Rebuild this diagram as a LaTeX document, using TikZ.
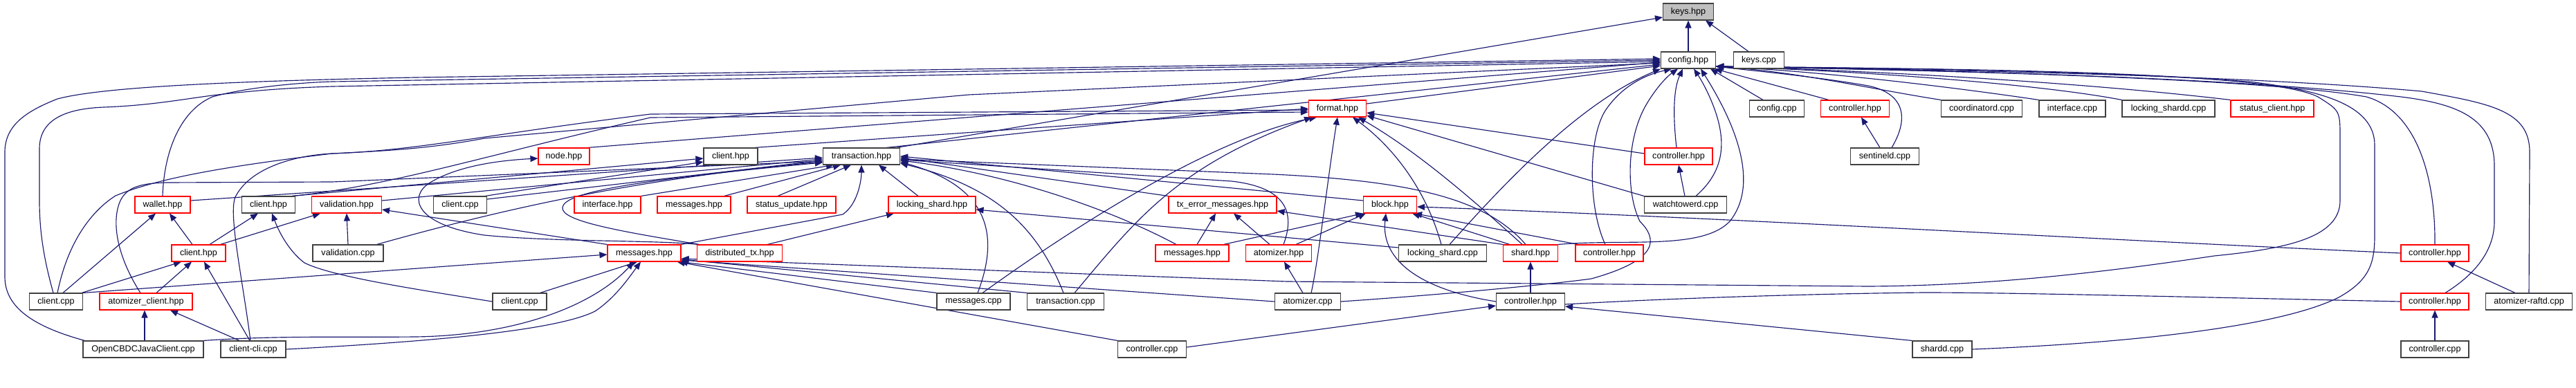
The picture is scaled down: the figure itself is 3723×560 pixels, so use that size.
\documentclass[tikz,border=0pt]{standalone}
\usepackage{fontspec}
\setmainfont{Liberation Sans}
\usetikzlibrary{arrows.meta}
\definecolor{edgec}{HTML}{191970}
\definecolor{redb}{HTML}{FF0000}
\definecolor{blkb}{HTML}{404040}
\definecolor{keyfill}{HTML}{BFBFBF}
\newcommand\nodefont{\fontsize{12.6}{14}\selectfont}
\pgfdeclarelayer{bg}
\pgfsetlayers{bg,main}
\begin{document}
\begin{tikzpicture}[x=1pt,y=-1pt,
  base/.style={draw, rectangle, minimum height=24, inner sep=0pt, fill=white, line width=1.1, text=black, font=\nodefont},
  rn/.style={base, draw=redb},
  bn/.style={base, draw=blkb},
  kn/.style={base, draw=blkb, fill=keyfill},
  e/.style={draw=edgec, line width=1.15, -{Triangle[length=11pt,width=9pt]}},
  en/.style={draw=edgec, line width=1.15}]
\useasboundingbox (0,0) rectangle (3723,560);
% row 0,1
\node[kn,minimum width=73] (keys) at (2440,17) {keys.hpp};
\node[bn,minimum width=79] (config) at (2440,87) {config.hpp};
\node[bn,minimum width=73] (keyscpp) at (2542,87) {keys.cpp};
% row 2
\node[rn,minimum width=83] (format) at (1933,157) {format.hpp};
\node[bn,minimum width=79] (configcpp) at (2568,157) {config.cpp};
\node[rn,minimum width=99] (ctrlA) at (2681,157) {controller.hpp};
\node[bn,minimum width=117] (coord) at (2864,157) {coordinatord.cpp};
\node[bn,minimum width=96] (ifacecpp) at (2995,157) {interface.cpp};
\node[bn,minimum width=134] (lsdcpp) at (3134,157) {locking\_shardd.cpp};
\node[rn,minimum width=120] (statcl) at (3284,157) {status\_client.hpp};
% row 3
\node[rn,minimum width=74] (node) at (815,226) {node.hpp};
\node[bn,minimum width=78] (clhA) at (1056,226) {client.hpp};
\node[bn,minimum width=111] (tx) at (1245,226) {transaction.hpp};
\node[rn,minimum width=98] (ctrlB) at (2426,226) {controller.hpp};
\node[bn,minimum width=99] (sentd) at (2724,226) {sentineld.cpp};
% row 4
\node[rn,minimum width=80] (wallet) at (235,296) {wallet.hpp};
\node[bn,minimum width=77] (clhB) at (388,296) {client.hpp};
\node[rn,minimum width=101] (valh) at (501,296) {validation.hpp};
\node[bn,minimum width=77] (clcA) at (665,296) {client.cpp};
\node[rn,minimum width=96] (ifaceh) at (878,296) {interface.hpp};
\node[rn,minimum width=106] (msgA) at (1003,296) {messages.hpp};
\node[rn,minimum width=128] (stup) at (1144,296) {status\_update.hpp};
\node[rn,minimum width=126] (lsh) at (1347,296) {locking\_shard.hpp};
\node[rn,minimum width=156] (txerr) at (1767,296) {tx\_error\_messages.hpp};
\node[rn,minimum width=77] (block) at (2009,296) {block.hpp};
\node[bn,minimum width=119] (watch) at (2436,296) {watchtowerd.cpp};
% row 5
\node[rn,minimum width=78] (clhC) at (287,366) {client.hpp};
\node[bn,minimum width=102] (valcpp) at (503,366) {validation.cpp};
\node[rn,minimum width=106] (msgL) at (931,366) {messages.hpp};
\node[rn,minimum width=123] (dtx) at (1069,366) {distributed\_tx.hpp};
\node[rn,minimum width=106] (msgR) at (1723,366) {messages.hpp};
\node[rn,minimum width=95] (atomh) at (1848,366) {atomizer.hpp};
\node[bn,minimum width=127] (lscpp) at (2085,366) {locking\_shard.cpp};
\node[rn,minimum width=79] (shard) at (2212,366) {shard.hpp};
\node[rn,minimum width=98] (ctrlC) at (2326,366) {controller.hpp};
\node[rn,minimum width=98] (ctrlD) at (3519,366) {controller.hpp};
% row 6
\node[bn,minimum width=77] (clcB) at (81,436) {client.cpp};
\node[rn,minimum width=134] (atcl) at (211,436) {atomizer\_client.hpp};
\node[bn,minimum width=78] (clcC) at (751,436) {client.cpp};
\node[bn,minimum width=106] (msgcpp) at (1407,436) {messages.cpp};
\node[bn,minimum width=111] (txcpp) at (1540,436) {transaction.cpp};
\node[bn,minimum width=95] (atomcpp) at (1890,436) {atomizer.cpp};
\node[bn,minimum width=99] (ctrlE) at (2212,436) {controller.hpp};
\node[rn,minimum width=98] (ctrlF) at (3519,436) {controller.hpp};
\node[bn,minimum width=125] (raftd) at (3655,436) {atomizer-raftd.cpp};
% row 7
\node[bn,minimum width=174] (java) at (207,505) {OpenCBDCJavaClient.cpp};
\node[bn,minimum width=94] (cli) at (366,505) {client-cli.cpp};
\node[bn,minimum width=99] (ctlcA) at (1665,505) {controller.cpp};
\node[bn,minimum width=86] (shardd) at (2807,505) {shardd.cpp};
\node[bn,minimum width=98] (ctlcB) at (3519,505) {controller.cpp};

\begin{pgfonlayer}{bg}
% keys.hpp
\draw[e] (config.north) -- (keys.south);
\draw[e] ([xshift=-15]keyscpp.north) -- ([xshift=25]keys.south);
\draw[e] ([xshift=-5]tx.north east) -- ([yshift=-8]keys.west);
% config.hpp
\draw[e] ([yshift=7]format.east) -- ([yshift=-8]config.west);
\draw[e] ([xshift=-20]configcpp.north) -- ([xshift=32]config.south);
\draw[e] ([xshift=-38]ctrlA.north) -- ([xshift=-2]config.south east);
\draw[e] (coord.north west) .. controls (2700,128) and (2600,104) .. ([yshift=-9]config.east);
\draw[e] (ifacecpp.north west) .. controls (2850,130) and (2650,104) .. ([yshift=-9]config.east);
\draw[e] (lsdcpp.north west) .. controls (2950,122) and (2700,103) .. ([yshift=-9]config.east);
\draw[e] (statcl.north west) .. controls (3000,118) and (2700,102) .. ([yshift=-9]config.east);
\draw[e] ([xshift=10]sentd.north) .. controls (2760,170) and (2752,135) .. (2700,124) .. controls (2620,110) and (2530,102) .. ([yshift=-9]config.east);
\draw[e] ([xshift=-3]ctrlB.north) .. controls (2418,170) and (2418,130) .. ([xshift=-8]config.south);
\draw[e] ([xshift=15]watch.north) .. controls (2495,245) and (2495,200) .. (2475,150) .. controls (2465,125) and (2455,110) .. ([xshift=8]config.south);
\draw[e] (shard.north east) .. controls (2350,345) and (2460,362) .. (2500,320) .. controls (2540,270) and (2515,190) .. ([xshift=18]config.south);
\draw[e] ([xshift=-6]ctrlC.north) .. controls (2295,300) and (2295,200) .. (2320,160) .. controls (2340,130) and (2370,110) .. ([xshift=-24]config.south);
\draw[e] (atomcpp.east) .. controls (2100,425) and (2250,410) .. (2300,403) .. controls (2400,375) and (2395,345) .. (2370,320) .. controls (2350,280) and (2350,200) .. (2380,150) .. controls (2395,125) and (2410,110) .. ([xshift=-15]config.south);
\draw[e] ([xshift=10]lscpp.north) .. controls (2170,270) and (2280,150) .. (config.south west);
\draw[e] (raftd.north) -- (3656,220) .. controls (3656,160) and (3600,150) .. (3500,132) .. controls (3200,105) and (2700,100) .. ([yshift=-9]config.east);
\draw[e] ([xshift=15]ctrlF.north) .. controls (3580,395) and (3605,360) .. (3605,320) -- (3605,240) .. controls (3605,170) and (3550,150) .. (3470,140) .. controls (3200,108) and (2700,100) .. ([yshift=-9]config.east);
\draw[e] (ctrlD.north) .. controls (3520,250) and (3490,160) .. (3420,140) .. controls (3250,110) and (2700,100) .. ([yshift=-9]config.east);
\draw[e] (shardd.east) .. controls (3100,495) and (3300,470) .. (3380,430) .. controls (3425,405) and (3432,380) .. (3432,340) -- (3432,210) .. controls (3432,150) and (3350,130) .. (3250,118) .. controls (3000,100) and (2700,99) .. ([yshift=-9]config.east);
\draw[e] ([yshift=-9]config.east) .. controls (2900,100) and (3280,105) .. (3350,140) .. controls (3382,160) .. (3382,200) -- (3382,290) .. controls (3382,345) and (3300,360) .. (3200,370) .. controls (3000,400) and (2850,413) .. (2700,414) -- (1860,407) -- ([yshift=-8]msgL.east);
\draw[e] ([xshift=3]java.north west) .. controls (40,470) and (7,440) .. (7,400) -- (7,220) .. controls (7,180) and (40,160) .. (83,143) .. controls (150,125) and (350,117) .. (600,112) -- ([yshift=2]config.west);
\draw[e] ([xshift=-4]clcB.north) .. controls (65,380) and (57,340) .. (57,290) -- (57,215) .. controls (57,170) and (100,157) .. (150,155) .. controls (230,152) and (280,140) .. (333,135) .. controls (380,130) and (420,127) .. (480,125) -- ([yshift=-2]config.west);
\draw[e] (wallet.north) .. controls (237,220) and (260,160) .. (307,140) .. controls (350,128) and (420,120) .. (480,118) -- (config.west);
\draw[e] ([xshift=-4]cli.north) .. controls (350,400) and (330,310) .. (340,285) .. controls (360,245) and (420,225) .. (480,222) .. controls (560,218) and (620,215) .. (700,200) -- (1400,137) -- ([yshift=-4]config.west);
\draw[e] ([xshift=-20]tx.north east) -- ([yshift=-6]config.west);
\draw[e] ([xshift=-3]node.north east) -- ([yshift=-3]config.west);
% format.hpp
\draw[e] ([yshift=4]ctrlB.west) -- ([yshift=-6]format.east);
\draw[e] (watch.north west) -- ([yshift=-10]format.east);
\draw[e] ([xshift=-12]shard.north) .. controls (2130,290) and (2050,220) .. ([xshift=30]format.south);
\draw[e] ([xshift=-2]lscpp.north) .. controls (2060,270) and (2010,210) .. ([xshift=22]format.south);
\draw[e] ([xshift=5]atomcpp.north) .. controls (1905,380) and (1920,250) .. (format.south);
\draw[e] ([xshift=13]msgcpp.north) .. controls (1550,330) and (1750,200) .. ([xshift=-30]format.south);
\draw[e] ([xshift=13]txcpp.north) .. controls (1640,320) and (1700,240) .. ([xshift=-37]format.south);
\draw[e] ([xshift=2]clcB.north) .. controls (100,340) and (140,300) .. (167,283) .. controls (230,257) and (330,240) .. (480,222) .. controls (600,218) and (700,195) .. (940,165) -- ([yshift=-2]format.west);
\draw[e] ([xshift=-5]clhA.north east) -- (format.west);
\draw[e] ([xshift=-5]clhB.north east) .. controls (560,270) and (700,225) .. (940,170) -- ([yshift=-5]format.west);
% transaction.hpp
\draw[e] ([yshift=6]wallet.east) -- ([yshift=-2]tx.west);
\draw[e] ([yshift=6]valh.east) -- ([yshift=-4]tx.west);
\draw[e] ([yshift=8]clcA.east) -- ([yshift=-6]tx.west);
\draw[e] ([xshift=-10]valcpp.north east) .. controls (700,310) and (900,260) .. ([yshift=-8]tx.west);
\draw[e] (ifaceh.north east) -- ([xshift=-40]tx.south);
\draw[e] ([xshift=-10]msgA.north east) -- ([xshift=-30]tx.south);
\draw[e] ([xshift=-20]stup.north) -- ([xshift=-15]tx.south);
\draw[e] ([xshift=-20]lsh.north) -- ([xshift=25]tx.south);
\draw[e] (msgL.north east) -- (1218,310) .. controls (1240,295) and (1245,260) .. (tx.south);
\draw[e] ([xshift=4]dtx.north west) .. controls (900,335) and (810,320) .. (813,300) .. controls (815,280) and (900,262) .. ([yshift=-9]tx.west);
\draw[e] ([xshift=-8]atcl.north) .. controls (175,380) and (160,330) .. (172,295) .. controls (180,272) and (200,265) .. (240,264) -- (480,263) -- ([yshift=-7]tx.west);
\draw[e] (txerr.north west) -- ([yshift=-2]tx.east);
\draw[e] ([xshift=-23]msgR.north) .. controls (1600,300) and (1450,250) .. ([yshift=-6]tx.east);
\draw[e] ([xshift=7]atomh.north) .. controls (1875,300) and (1850,270) .. (1780,262) -- ([yshift=-5]tx.east);
\draw[e] ([yshift=6]block.west) -- ([yshift=0]tx.east);
\draw[e] ([xshift=-7]shard.north) .. controls (2150,290) and (2050,262) .. (1840,252) -- ([yshift=-4]tx.east);
\draw[e] ([xshift=6]msgcpp.north) .. controls (1445,340) and (1430,270) .. ([yshift=-8]tx.east);
\draw[e] ([xshift=-3]txcpp.north) .. controls (1500,330) and (1440,270) .. ([yshift=-10]tx.east);
% client.hpp (row 3)
\draw[e] ([xshift=-5]clhB.north east) -- ([yshift=-3]clhA.west);
\draw[e] ([xshift=-3]clcA.north east) -- ([yshift=-8]clhA.west);
% node.hpp, locking_shard.hpp
\draw[e] ([xshift=2]dtx.north west) .. controls (950,347) and (800,350) .. (700,340) .. controls (600,325) and (590,285) .. (620,265) .. controls (660,240) and (720,232) .. ([yshift=-3]node.west);
\draw[e] ([xshift=40]dtx.north) -- ([xshift=-55]lsh.south);
\draw[e] ([yshift=8]lscpp.west) -- ([yshift=-7]lsh.east);
% validation.hpp, wallet.hpp, client.hpp (rows 4, 5)
\draw[e] ([xshift=-8]clhC.north east) -- ([xshift=-38]valh.south);
\draw[e] (valcpp.north) -- (valh.south);
\draw[e] (msgL.north west) -- ([yshift=-7]valh.east);
\draw[e] ([xshift=-9]clhC.north) -- ([xshift=10]wallet.south);
\draw[e] ([xshift=10]clcB.north) -- ([xshift=-10]wallet.south);
\draw[e] ([xshift=16]clhC.north) -- ([xshift=-15]clhB.south);
\draw[e] (clcC.west) .. controls (600,418) and (480,400) .. (440,380) .. controls (420,365) and (405,340) .. ([xshift=5]clhB.south);
\draw[e] ([xshift=-2]clcB.north east) -- ([xshift=-25]clhC.south);
\draw[e] ([xshift=15]atcl.north) -- ([xshift=-10]clhC.south);
\draw[e] ([xshift=-5]cli.north) -- ([xshift=8]clhC.south);
\draw[e] ([xshift=2]java.north) -- ([xshift=-2]atcl.south);
\draw[e] ([xshift=-20]cli.north) -- ([xshift=35]atcl.south);
% messages.hpp (left)
\draw[e] (clcB.north east) -- ([yshift=-2]msgL.west);
\draw[e] ([xshift=-10]clcC.north east) -- ([xshift=-10]msgL.south);
\draw[e] (java.north east) .. controls (400,485) and (500,488) .. (600,487) .. controls (750,485) and (860,440) .. ([xshift=-15]msgL.south);
\draw[e] (cli.east) .. controls (600,495) and (800,480) .. (860,450) .. controls (890,430) and (910,400) .. ([xshift=-5]msgL.south);
\draw[e] (msgcpp.north west) -- ([xshift=-2]msgL.south east);
\draw[e] (txcpp.north west) -- ([yshift=-9]msgL.east);
\draw[e] (atomcpp.west) -- ([yshift=-10]msgL.east);
\draw[e] (ctlcA.north west) -- ([xshift=-6]msgL.south east);
% tx_error_messages.hpp, block.hpp
\draw[e] ([xshift=7]msgR.north) -- ([xshift=-10]txerr.south);
\draw[e] ([xshift=-13]atomh.north) -- ([xshift=16]txerr.south);
\draw[e] (shard.north west) -- ([yshift=-9]txerr.east);
\draw[e] ([xshift=25]atomh.north) -- ([xshift=-35]block.south);
\draw[e] ([xshift=-8]msgR.north east) -- (block.south west);
\draw[e] ([xshift=-30]shard.north) -- ([xshift=32]block.south);
\draw[e] ([xshift=-45]ctrlC.north) -- ([xshift=-4]block.south east);
\draw[e] (ctrlD.west) .. controls (3000,345) and (2500,315) .. ([yshift=-3]block.east);
\draw[e] (ctrlE.west) .. controls (2060,420) and (1995,380) .. ([xshift=-6]block.south);
\draw[en] (ctrlF.west) .. controls (3100,428) and (2900,423) .. (2780,423) .. controls (2600,425) and (2400,432) .. ([yshift=-4]ctrlE.east);
% remaining
\draw[e] ([xshift=-7]atomcpp.north) -- ([xshift=8]atomh.south);
\draw[e] (ctrlE.north) -- (shard.south);
\draw[e] ([yshift=3]ctlcA.east) -- ([yshift=-6]ctrlE.west);
\draw[e] (shardd.north west) -- ([yshift=-7]ctrlE.east);
\draw[e] ([xshift=-7]sentd.north) -- ([xshift=9]ctrlA.south);
\draw[e] ([xshift=-1]watch.north) -- (ctrlB.south);
\draw[e] ([xshift=-20]raftd.north) -- ([xshift=18]ctrlD.south);
\draw[e] (ctlcB.north) -- (ctrlF.south);
\end{pgfonlayer}
\end{tikzpicture}
\end{document}
